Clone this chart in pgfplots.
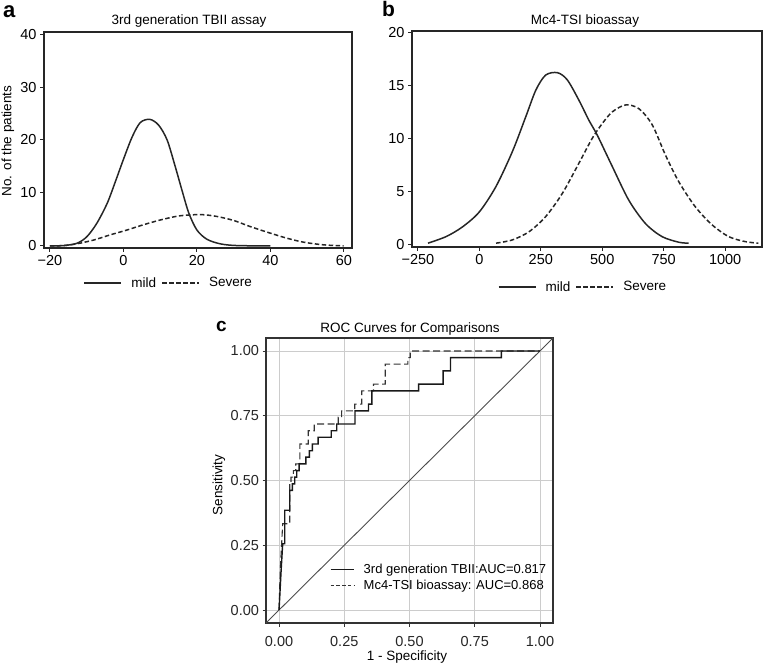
\documentclass[border=0pt]{standalone}
\usepackage{fontspec}
\setmainfont{Liberation Sans}
\usepackage{pgfplots}
\usepackage{pgfplotstable}
\pgfplotsset{compat=1.18}

\pgfplotstableread{
x y
-20 0
-16.2 0.06
-12.6 0.5
-9.9 1.76
-7.2 4.3
-4.4 8.05
-2.2 12.1
0.1 16.5
2.4 20.6
4.6 23.3
7.2 23.9
9.6 22.8
11.9 20.0
14.1 15.0
15.9 10.6
17.8 6.2
20.0 3.0
22.7 1.26
26.4 0.38
30.9 0.06
40 0
}\amild

\pgfplotstableread{
x y
-20 0
-16.2 0.06
-12.6 0.4
-8.1 1.1
-3.5 2.1
1.0 3.0
5.5 4.0
10.1 4.9
14.6 5.6
18.2 5.85
21.8 5.88
25.5 5.55
30.0 4.8
34.5 3.65
40 2.4
44.5 1.45
49 0.7
54.4 0.2
59.9 0
}\asevere

\pgfplotstableread{
x y
-209 0.16
-135 0.78
-68 1.7
0 3.1
68 5.5
135 8.8
189 12.05
230 14.55
270 15.96
318 16.18
358 15.5
405 13.6
446 11.7
480 10.3
541 7.36
608 4.2
676 2.0
743 0.78
811 0.25
851 0.16
}\bmild

\pgfplotstableread{
x y
68 0.16
135 0.47
203 1.25
270 2.66
338 4.85
405 7.67
459 10.0
500 11.4
541 12.5
595 13.15
649 12.8
703 11.3
757 8.45
811 5.95
878 3.6
946 1.9
1014 0.78
1081 0.31
1135 0.16
}\bsevere

\pgfplotstableread{
x y
0 0
0.004 0.077
0.008 0.154
0.011 0.205
0.014 0.256
0.022 0.256
0.022 0.385
0.041 0.385
0.041 0.462
0.051 0.462
0.051 0.487
0.060 0.487
0.060 0.513
0.068 0.513
0.068 0.538
0.077 0.538
0.077 0.564
0.103 0.564
0.103 0.590
0.116 0.590
0.116 0.615
0.128 0.615
0.128 0.641
0.150 0.641
0.150 0.667
0.200 0.667
0.200 0.692
0.221 0.692
0.221 0.718
0.291 0.718
0.291 0.769
0.343 0.769
0.343 0.795
0.356 0.795
0.356 0.846
0.535 0.846
0.535 0.872
0.629 0.872
0.629 0.923
0.657 0.923
0.657 0.974
0.852 0.974
0.852 1
1 1
}\roctbii

\pgfplotstableread{
x y
0 0
0.003 0.103
0.006 0.179
0.010 0.256
0.014 0.333
0.041 0.333
0.041 0.487
0.046 0.487
0.046 0.513
0.055 0.513
0.055 0.538
0.064 0.538
0.064 0.564
0.080 0.564
0.080 0.641
0.112 0.641
0.112 0.692
0.135 0.692
0.135 0.718
0.227 0.718
0.227 0.744
0.240 0.744
0.240 0.769
0.290 0.769
0.290 0.795
0.317 0.795
0.317 0.846
0.362 0.846
0.362 0.872
0.407 0.872
0.407 0.949
0.494 0.949
0.494 0.974
0.503 0.974
0.503 1
1 1
}\rocmc

\begin{document}
\begin{tikzpicture}[x=1pt,y=1pt]
\path[use as bounding box] (0,0) rectangle (764,665);
\pgfplotsset{
  every axis/.append style={scale only axis,
    font=\fontsize{13.5}{16}\selectfont,
    tick label style={font=\fontsize{14.5}{17}\selectfont},
    /pgf/number format/assume math mode=true},
  distaxis/.style={
    tick pos=left, tick align=outside, major tick length=4pt,
    axis line style={line width=1.1pt, black!85},
    every tick/.style={line width=1pt, black!85},
    legend columns=2,
    legend style={draw=none, fill=none, font=\fontsize{13.5}{16}\selectfont},
    legend image code/.code={\path[draw=none,fill=none] (-4pt,0pt) -- (45pt,0pt); \draw[##1] (0pt,0pt) -- (37pt,0pt);},
  },
  mildst/.style={black!85, line width=1.5pt, smooth, tension=0.5},
  sevst/.style={black!85, line width=1.5pt, smooth, tension=0.5, dash pattern=on 4.5pt off 2.5pt},
}

% ---------- panel a
\begin{axis}[distaxis,
  at={(44pt,417pt)}, anchor=south west, width=308pt, height=216pt,
  xmin=-21.6, xmax=62.2, ymin=-0.4, ymax=40.4,
  xtick={-20,0,20,40,60}, xticklabels={−20,0,20,40,60},
  ytick={0,10,20,30,40},
  legend style={at={(0.40,-0.162)}, anchor=center},
]
\addplot[mildst] table[x=x,y=y] {\amild};
\addlegendentry{mild}
\addplot[sevst] table[x=x,y=y] {\asevere};
\addlegendentry{Severe}
\end{axis}

% ---------- panel b
\begin{axis}[distaxis,
  at={(412pt,418pt)}, anchor=south west, width=350pt, height=216pt,
  xmin=-274, xmax=1150, ymin=-0.2, ymax=20.1,
  xtick={-250,0,250,500,750,1000}, xticklabels={−250,0,250,500,750,1000},
  ytick={0,5,10,15,20},
  legend style={at={(0.484,-0.185)}, anchor=center},
]
\addplot[mildst] table[x=x,y=y] {\bmild};
\addlegendentry{mild}
\addplot[sevst] table[x=x,y=y] {\bsevere};
\addlegendentry{Severe}
\end{axis}

% ---------- panel c
\begin{axis}[
  at={(266pt,42pt)}, anchor=south west, width=287pt, height=285pt,
  xmin=-0.05, xmax=1.05, ymin=-0.05, ymax=1.05,
  xtick={0,0.25,0.5,0.75,1}, xticklabels={0.00,0.25,0.50,0.75,1.00},
  ytick={0,0.25,0.5,0.75,1}, yticklabels={0.00,0.25,0.50,0.75,1.00},
  grid=major, major grid style={black!20, line width=0.9pt},
  tick pos=left, tick align=outside, major tick length=3.5pt,
  axis line style={line width=1.1pt, black!80},
  every tick/.style={line width=0.9pt, black!80},
  ticklabel style={black!85},
  xticklabel style={yshift=-6pt},
  legend style={at={(0.212,0.221)}, anchor=north west, draw=none, fill=none,
    font=\fontsize{13}{16}\selectfont, row sep=1pt},
  legend cell align=left,
  legend image code/.code={\path[draw=none,fill=none] (0pt,0pt) -- (31pt,0pt); \draw[#1] (0pt,0pt) -- (23pt,0pt);},
]
\addplot[black!70, line width=0.9pt, forget plot] coordinates {(-0.05,-0.05) (1.05,1.05)};
\addplot[black!80, line width=1.1pt, dash pattern=on 7pt off 3.5pt, forget plot] table[x=x,y=y] {\rocmc};
\addplot[black!90, line width=1.4pt, forget plot] table[x=x,y=y] {\roctbii};
\addlegendimage{black!90, line width=1.4pt}
\addlegendentry{3rd generation TBII:AUC=0.817}
\addlegendimage{black!80, line width=1pt, dash pattern=on 3.5pt off 2.2pt}
\addlegendentry{Mc4-TSI bioassay: AUC=0.868}
\end{axis}

% ---------- titles and labels
\node[anchor=base, font=\fontsize{13.5}{16}\selectfont] at (189,640) {3rd generation TBII assay};
\node[anchor=base, font=\fontsize{13.5}{16}\selectfont] at (585,640) {Mc4-TSI bioassay};
\node[anchor=base, font=\fontsize{13.5}{16}\selectfont] at (410,332) {ROC Curves for Comparisons};
\node[rotate=90, font=\fontsize{13.5}{16}\selectfont] at (8,524) {No. of the patients};
\node[rotate=90, font=\fontsize{13.5}{16}\selectfont] at (219,180) {Sensitivity};
\node[anchor=base, inner sep=0pt, font=\fontsize{13.5}{16}\selectfont] at (407,4.5) {1 - Specificity};
\node[anchor=base west, inner sep=0pt, font=\bfseries\fontsize{22}{24}\selectfont] at (3,647) {a};
\node[anchor=base west, inner sep=0pt, font=\bfseries\fontsize{21}{23}\selectfont] at (382,648) {b};
\node[anchor=base west, inner sep=0pt, font=\bfseries\fontsize{19}{21}\selectfont] at (216,333) {c};
\end{tikzpicture}
\end{document}
